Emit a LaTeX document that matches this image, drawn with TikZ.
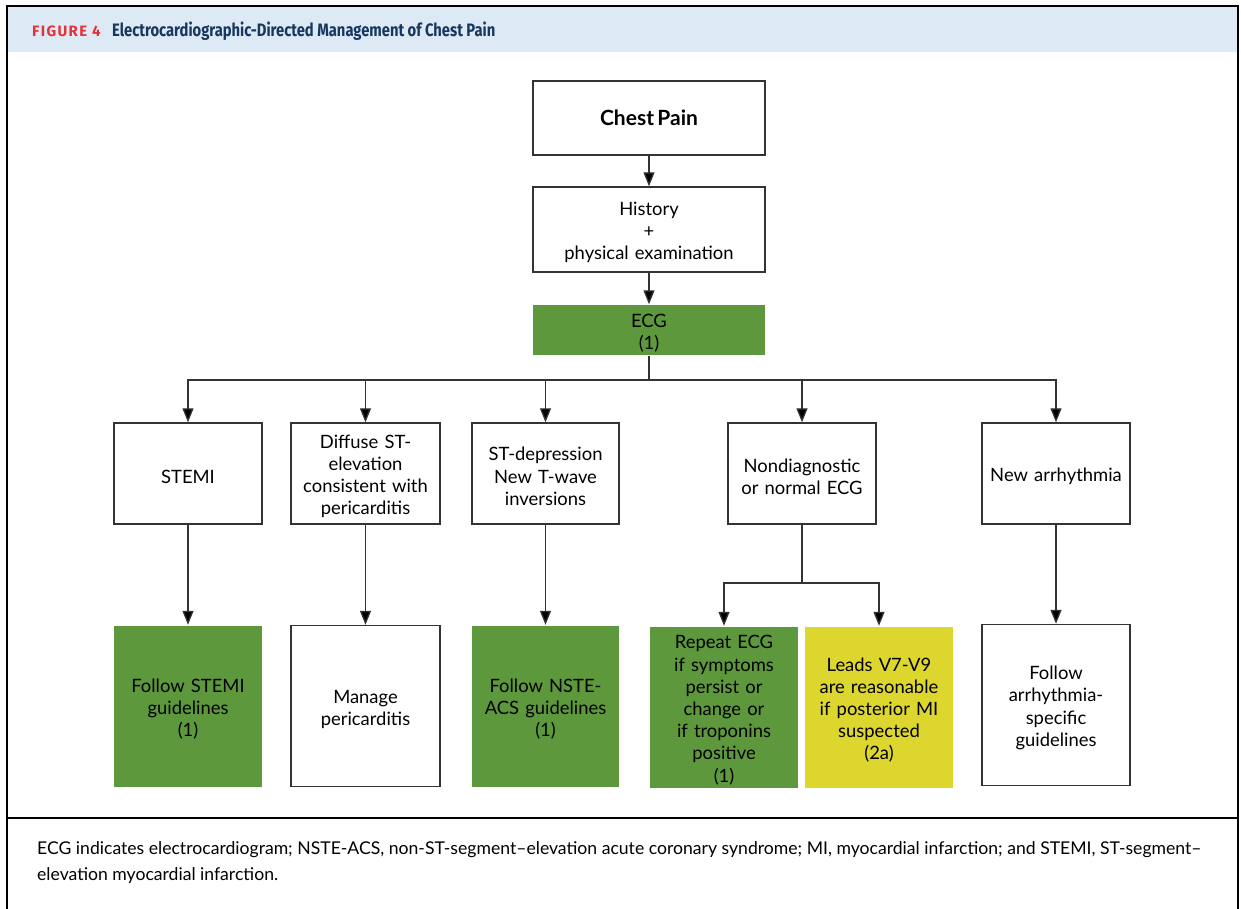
\documentclass[tikz,border=0pt]{standalone}
\usepackage{fontspec}
\setmainfont{Lato}
\newfontfamily\titlefont{Fira Sans}
\usetikzlibrary{arrows.meta}
\definecolor{ggreen}{HTML}{5D983C}
\definecolor{gyellow}{HTML}{DDD62E}
\definecolor{hblue}{HTML}{DDE9F5}
\definecolor{fred}{HTML}{E2333B}
\definecolor{fnavy}{HTML}{17375F}
\definecolor{lgray}{HTML}{333333}
\begin{document}
\begin{tikzpicture}[x=1pt,y=-1pt,
  box/.style={draw=lgray,line width=1.4pt,rectangle,inner sep=2pt,align=center,
    font=\fontsize{18.4}{22.2}\selectfont,
    execute at begin node={\rule{0pt}{19.5pt}}},
  greenbox/.style={box,draw=none,fill=ggreen},
  yellowbox/.style={box,draw=none,fill=gyellow},
  conn/.style={draw=lgray,line width=1.3pt},
  arr/.style={conn,-{Triangle[length=14pt,width=11pt,fill=black]}}]
\useasboundingbox (0,0) rectangle (1241,909);
% frame and header
\fill[hblue] (7,6) rectangle (1238,52);
\draw[line width=2.5pt] (7,930) -- (7,6) -- (1238,6) -- (1238,930);
\draw[line width=2pt] (7,818) -- (1238,818);
\node[anchor=west,inner sep=0,text=fred] (fig) at (32,31)
  {\titlefont\bfseries\fontsize{15}{16}\selectfont\addfontfeatures{LetterSpace=9}FIGURE 4};
\node[anchor=west,inner sep=0,text=fnavy] (title) at (112,31)
  {\scalebox{0.82}[1]{\titlefont\bfseries\fontsize{18}{20}\selectfont Electrocardiographic-Directed Management of Chest Pain}};
% top chain
\node[draw=lgray,line width=1.4pt,inner sep=2pt,align=center,minimum width=232pt,minimum height=74pt,text width=220pt] (chest) at (649,118)
  {\fontsize{21}{24}\selectfont\bfseries Chest Pain};
\node[box,minimum width=232pt,minimum height=85pt,text width=220pt] (hist) at (649,229.5)
  {History\\+\\physical examination};
\node[greenbox,minimum width=232pt,minimum height=50pt,text width=220pt] (ecg) at (649,330)
  {ECG\\(1)};
% row 2
\node[box,minimum width=148pt,minimum height=101pt,text width=142pt] (stemi) at (188,473.5) {STEMI};
\node[box,minimum width=149pt,minimum height=101pt,text width=144pt] (diff) at (365.5,473.5)
  {Diffuse ST-\\elevation\\consistent with\\pericarditis};
\node[box,minimum width=147pt,minimum height=101pt,text width=142pt] (stdep) at (545.5,473.5)
  {ST-depression\\New T-wave\\inversions};
\node[box,minimum width=148pt,minimum height=101pt,text width=142pt] (nondiag) at (802,473.5)
  {Nondiagnostic\\or normal ECG};
\node[box,minimum width=148pt,minimum height=101pt,text width=142pt] (newarr) at (1056,473.5)
  {New arrhythmia};
% row 3
\node[greenbox,minimum width=148pt,minimum height=161pt,text width=142pt] (fstemi) at (188,706)
  {Follow STEMI\\guidelines\\(1)};
\node[box,minimum width=149pt,minimum height=161pt,text width=142pt] (peri) at (365.5,706)
  {Manage\\pericarditis};
\node[greenbox,minimum width=147pt,minimum height=161pt,text width=142pt] (fnste) at (545.5,706)
  {Follow NSTE-\\ACS guidelines\\(1)};
\node[greenbox,minimum width=148pt,minimum height=161pt,text width=144pt] (repeat) at (724,707)
  {Repeat ECG\\if symptoms\\persist or\\change or\\if troponins\\positive\\(1)};
\node[yellowbox,minimum width=148pt,minimum height=161pt,text width=144pt] (leads) at (879,707)
  {Leads V7-V9\\are reasonable\\if posterior MI\\suspected\\(2a)};
\node[box,minimum width=148pt,minimum height=161pt,text width=142pt] (farr) at (1056,705)
  {Follow\\arrhythmia-\\specific\\guidelines};
% connectors
\draw[arr] (chest.south) -- (hist.north);
\draw[arr] (hist.south) -- (ecg.north);
\coordinate (bus) at (649,380);
\draw[conn] (ecg.south) -- (bus);
\draw[arr] (bus) -| (stemi.north);
\draw[arr] (bus) -| (diff.north);
\draw[arr] (bus) -| (stdep.north);
\draw[arr] (bus) -| (nondiag.north);
\draw[arr] (bus) -| (newarr.north);
\draw[arr] (stemi.south) -- (fstemi.north);
\draw[arr] (diff.south) -- (peri.north);
\draw[arr] (stdep.south) -- (fnste.north);
\draw[arr] (newarr.south) -- (farr.north);
\coordinate (split) at (802,583);
\draw[conn] (nondiag.south) -- (split);
\draw[arr] (split) -| (repeat.north);
\draw[arr] (split) -| (leads.north);
% footnote
\node[anchor=west,align=left,inner sep=0,font=\fontsize{17.6}{26}\selectfont] (foot) at (37,863)
  {ECG indicates electrocardiogram; NSTE-ACS, non-ST-segment–elevation acute coronary syndrome; MI, myocardial infarction; and STEMI, ST-segment–\\elevation myocardial infarction.};
\end{tikzpicture}
\end{document}
